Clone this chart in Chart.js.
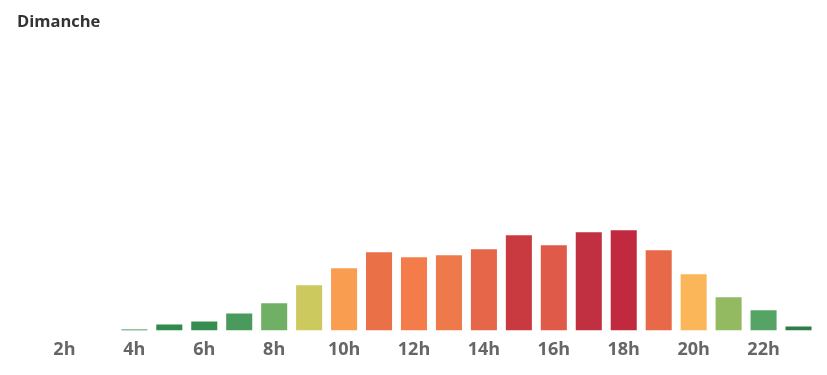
<!DOCTYPE html>
<html>
<head>
<meta charset="utf-8">
<script src="https://cdn.jsdelivr.net/npm/chart.js@4/dist/chart.umd.min.js"></script>
<style>
    html, body { margin: 0; padding: 0; background: #fff; }
    #wrap { position: relative; width: 827px; height: 375px; }
    #dayChart { display: block; }
    #title {
        position: absolute; left: 17px; top: 9px;
        font-family: "Open Sans", sans-serif; font-weight: bold; font-size: 16.5px; color: #333;
    }
</style>
</head>
<body>
<div id="wrap">
    <div id="title">Dimanche</div>
    <canvas id="dayChart" width="827" height="375"></canvas>
</div>
<script>
// hours of the day shown on the axis
const hours = ['1h', '2h', '3h', '4h', '5h', '6h', '7h', '8h', '9h', '10h', '11h', '12h',
    '13h', '14h', '15h', '16h', '17h', '18h', '19h', '20h', '21h', '22h', '23h']
// traffic level (18h = 100)
const traffic = [0, 0, 0, 1, 6, 9, 17, 27, 45, 62, 78, 73, 75, 81, 95, 85, 98, 100, 80, 56, 33, 20, 4]
const barColors = ['#2e7d46', '#2e7d46', '#2e7d46', '#2e7d46', '#2f8a4b', '#378c4f', '#4a9a5e',
    '#70b065', '#ccc95f', '#f99e50', '#ea7048', '#f47c4a', '#ee7a4c', '#e6664a', '#c83a40',
    '#e05a4a', '#c13040', '#c0293e', '#e8694a', '#fab658', '#93ba60', '#55a466', '#2e7d46']
// only even hours get a label
const shownTicks = ['2h', '4h', '6h', '8h', '10h', '12h', '14h', '16h', '18h', '20h', '22h']

const ctx = document.getElementById('dayChart').getContext('2d')
const dayChart = new Chart(ctx, {
    type: 'bar',
    data: {
        labels: hours,
        datasets: [{
            data: traffic,
            backgroundColor: barColors,
            categoryPercentage: 1,
            barPercentage: 0.745
        }]
    },
    options: {
        responsive: false,
        animation: false,
        layout: { padding: { left: 12, right: 11, top: 40, bottom: 5 } },
        plugins: {
            legend: { display: false },
            tooltip: { enabled: false }
        },
        scales: {
            x: {
                grid: { display: false, drawTicks: false },
                border: { display: false },
                ticks: {
                    autoSkip: false,
                    maxRotation: 0,
                    padding: 9,
                    color: '#666',
                    font: { family: '"Open Sans", sans-serif', size: 18, weight: 'bold' },
                    callback: function (value) {
                        const lbl = hours[value]
                        return shownTicks.includes(lbl) ? lbl : ''
                    }
                }
            },
            y: {
                display: false,
                min: 0,
                max: 290
            }
        }
    }
})
</script>
</body>
</html>
